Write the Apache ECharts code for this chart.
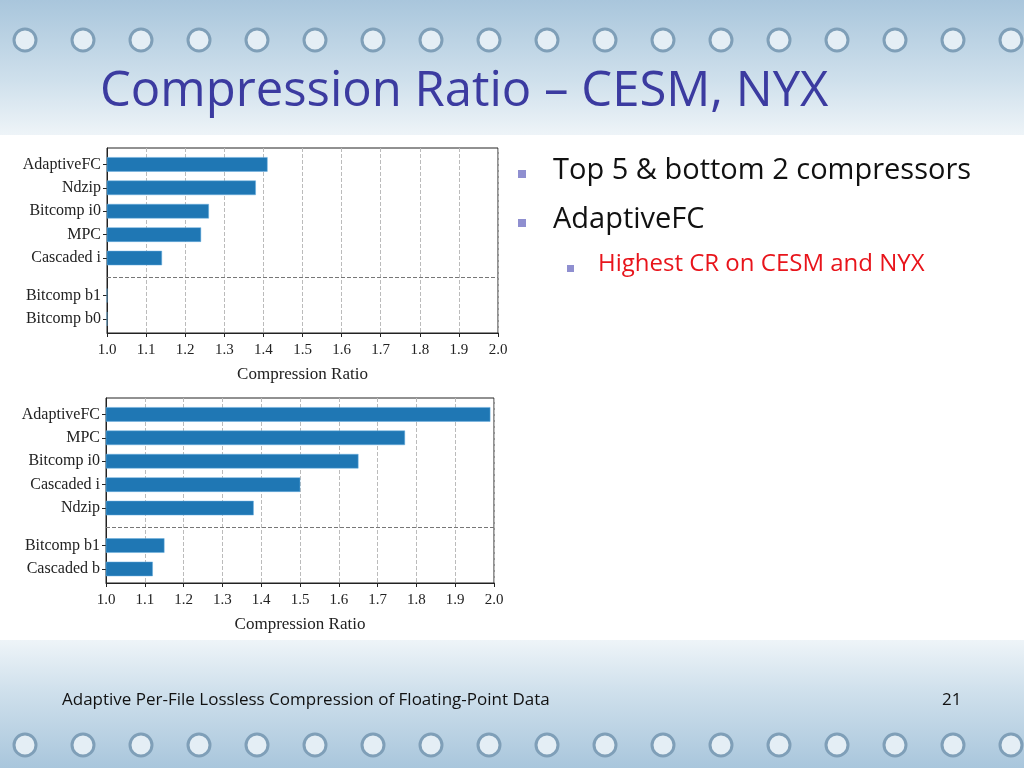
<!DOCTYPE html>
<html>
<head>
<meta charset="utf-8" />
<script src="https://cdn.jsdelivr.net/npm/echarts@6/dist/echarts.min.js"></script>
<style>
  html, body { margin: 0; padding: 0; }
  #main { width: 1024px; height: 768px; }
</style>
</head>
<body>
<div id="main"></div>
<script>
// CESM (top chart)
var cesmNames = ['AdaptiveFC', 'Ndzip', 'Bitcomp i0', 'MPC', 'Cascaded i', 'Bitcomp b1', 'Bitcomp b0'];
var cesmValues = [1.41, 1.38, 1.26, 1.24, 1.14, 1.0, 1.0];
// NYX (bottom chart)
var nyxNames = ['AdaptiveFC', 'MPC', 'Bitcomp i0', 'Cascaded i', 'Ndzip', 'Bitcomp b1', 'Cascaded b'];
var nyxValues = [1.99, 1.77, 1.65, 1.50, 1.38, 1.15, 1.12];
// row slots: top 5, a gap, then bottom 2
var rowPos = [0, 1, 2, 3, 4, 5.6, 6.6];

var serif = 'Liberation Serif';
var myChart = echarts.init(document.getElementById('main'));

function makeX(idx) {
    return {
        type: 'value', gridIndex: idx, min: 1.0, max: 2.0, interval: 0.1,
        name: 'Compression Ratio', nameLocation: 'middle', nameGap: 33,
        nameTextStyle: { fontFamily: serif, fontSize: 17, color: '#222' },
        axisLine: { show: true, onZero: false, lineStyle: { color: '#222', width: 1 } },
        axisTick: { show: true, length: 4, lineStyle: { color: '#222' } },
        axisLabel: { fontFamily: serif, fontSize: 15, color: '#222', margin: 10,
            formatter: function (v) { return v.toFixed(1); } },
        splitLine: { show: true, lineStyle: { color: '#bbb', type: 'dashed' } }
    };
}
function makeY(idx, names) {
    return {
        type: 'value', gridIndex: idx, inverse: true, min: -0.7, max: 7.2,
        axisLine: { show: true, onZero: false, lineStyle: { color: '#222' } },
        axisTick: { show: true, length: 4, customValues: rowPos },
        axisLabel: { fontFamily: serif, fontSize: 16, color: '#222', margin: 6,
            customValues: rowPos,
            formatter: function (v) {
                var i = rowPos.indexOf(v);
                return i >= 0 ? names[i] : '';
            } },
        splitLine: { show: false }
    };
}
function makeSeries(idx, values) {
    return {
        type: 'custom', xAxisIndex: idx, yAxisIndex: idx,
        data: values.map(function (v, i) { return [v, rowPos[i]]; }),
        encode: { x: 0, y: 1 },
        renderItem: function (params, api) {
            var p0 = api.coord([1.0, api.value(1)]);
            var p1 = api.coord([api.value(0), api.value(1)]);
            return {
                type: 'rect',
                shape: { x: p0[0], y: p0[1] - 7, width: p1[0] - p0[0], height: 14 },
                style: { fill: '#1f77b4', stroke: '#6ab0e0', lineWidth: 0.5 }
            };
        },
        markLine: {
            silent: true, symbol: 'none', label: { show: false },
            lineStyle: { color: '#777', type: 'dashed', width: 1 },
            data: [{ yAxis: 4.8 }]
        }
    };
}

// slide decoration: circuit-board bands top and bottom
var deco = [
    { type: 'rect', shape: { x: 0, y: 0, width: 1024, height: 135 }, z: -10,
      style: { fill: new echarts.graphic.LinearGradient(0, 0, 0, 1, [
          { offset: 0, color: '#a9c6dc' }, { offset: 0.6, color: '#cfe0ec' }, { offset: 1, color: '#eef4f8' }]) } },
    { type: 'rect', shape: { x: 0, y: 640, width: 1024, height: 128 }, z: -10,
      style: { fill: new echarts.graphic.LinearGradient(0, 0, 0, 1, [
          { offset: 0, color: '#eef4f8' }, { offset: 0.4, color: '#cfe0ec' }, { offset: 1, color: '#a9c6dc' }]) } }
];
for (var k = 0; k < 18; k++) {
    deco.push({ type: 'circle', shape: { cx: 25 + k * 58, cy: 40, r: 11 }, z: -9,
        style: { fill: '#e4eef5', stroke: '#7f9fb8', lineWidth: 3 } });
    deco.push({ type: 'circle', shape: { cx: 25 + k * 58, cy: 745, r: 11 }, z: -9,
        style: { fill: '#e4eef5', stroke: '#7f9fb8', lineWidth: 3 } });
}
var texts = [
    { type: 'text', left: 100, top: 68, style: { text: 'Compression Ratio \u2013 CESM, NYX',
        fontFamily: 'Open Sans', fontSize: 49, fill: '#3b3ba0' } },
    { type: 'rect', shape: { x: 518, y: 170, width: 8, height: 8 }, style: { fill: '#8f8fd0' } },
    { type: 'text', left: 553, top: 156, style: { text: 'Top 5 & bottom 2 compressors',
        fontFamily: 'Open Sans', fontSize: 29, fill: '#111' } },
    { type: 'rect', shape: { x: 518, y: 219, width: 8, height: 8 }, style: { fill: '#8f8fd0' } },
    { type: 'text', left: 553, top: 205, style: { text: 'AdaptiveFC',
        fontFamily: 'Open Sans', fontSize: 29, fill: '#111' } },
    { type: 'rect', shape: { x: 567, y: 265, width: 7, height: 7 }, style: { fill: '#8f8fd0' } },
    { type: 'text', left: 598, top: 252, style: { text: 'Highest CR on CESM and NYX',
        fontFamily: 'Open Sans', fontSize: 24, fill: '#e8141b' } },
    { type: 'text', left: 62, top: 692, style: { text: 'Adaptive Per-File Lossless Compression of Floating-Point Data',
        fontFamily: 'Open Sans', fontSize: 17, fill: '#111' } },
    { type: 'text', left: 942, top: 692, style: { text: '21',
        fontFamily: 'Open Sans', fontSize: 17, fill: '#111' } }
];

var option = {
    backgroundColor: '#ffffff',
    animation: false,
    graphic: deco.concat(texts),
    grid: [
        { left: 107, top: 148, width: 391, height: 185, show: true, borderColor: '#222', borderWidth: 1, backgroundColor: 'transparent' },
        { left: 106, top: 398, width: 388, height: 185, show: true, borderColor: '#222', borderWidth: 1, backgroundColor: 'transparent' }
    ],
    xAxis: [makeX(0), makeX(1)],
    yAxis: [makeY(0, cesmNames), makeY(1, nyxNames)],
    series: [makeSeries(0, cesmValues), makeSeries(1, nyxValues)]
};
myChart.setOption(option);
</script>
</body>
</html>
